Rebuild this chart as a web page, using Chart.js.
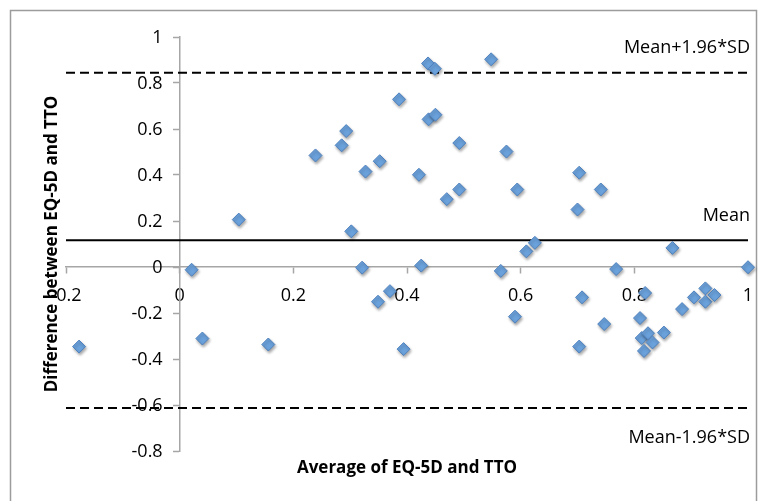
<!DOCTYPE html>
<html>
<head>
<meta charset="utf-8">
<script src="https://cdn.jsdelivr.net/npm/chart.js@4.4.0/dist/chart.umd.min.js"></script>
<style>
  html, body { margin: 0; padding: 0; background: #fff; }
  #wrap { width: 766px; height: 501px; position: relative; }
</style>
</head>
<body>
<div id="wrap"><canvas id="chart"></canvas></div>
<script>
// Bland-Altman: average vs difference of EQ-5D and TTO
const avgValues = [
  -0.177, 0.021, 0.040, 0.104, 0.156, 0.239, 0.285, 0.293, 0.302, 0.321,
  0.327, 0.349, 0.352, 0.370, 0.386, 0.394, 0.421, 0.425, 0.437, 0.438,
  0.449, 0.450, 0.470, 0.492, 0.492, 0.548, 0.565, 0.575, 0.590, 0.594,
  0.610, 0.625, 0.700, 0.703, 0.703, 0.708, 0.741, 0.747, 0.768, 0.810,
  0.813, 0.817, 0.819, 0.824, 0.832, 0.852, 0.867, 0.884, 0.905, 0.925,
  0.925, 0.941, 1.000
];
const diffValues = [
  -0.346, -0.012, -0.311, 0.206, -0.337, 0.485, 0.529, 0.591, 0.155, -0.003,
  0.415, -0.151, 0.460, -0.105, 0.729, -0.357, 0.401, 0.006, 0.885, 0.642,
  0.862, 0.662, 0.295, 0.539, 0.337, 0.903, -0.017, 0.502, -0.216, 0.337,
  0.068, 0.105, 0.250, 0.410, -0.346, -0.132, 0.337, -0.248, -0.009, -0.222,
  -0.309, -0.365, -0.113, -0.288, -0.328, -0.285, 0.083, -0.183, -0.132, -0.093,
  -0.151, -0.122, -0.001
];

const meanDiff = 0.116;
const upperLimit = 0.845;
const lowerLimit = -0.613;
const limitLabels = ['Mean+1.96*SD', 'Mean', 'Mean-1.96*SD'];

const xTicks = [-0.2, 0, 0.2, 0.4, 0.6, 0.8, 1];
const yTicks = [-0.8, -0.6, -0.4, -0.2, 0, 0.2, 0.4, 0.6, 0.8, 1];
const xTitle = 'Average of EQ-5D and TTO';
const yTitle = 'Difference between EQ-5D and TTO';

const FONT = '"Open Sans", "Liberation Sans", sans-serif';
const axisGray = '#a6a6a6';

const fmt = (v) => String(+v.toFixed(1));
const points = avgValues.map((x, i) => ({ x: x, y: diffValues[i] }));
const hline = (y) => [{ x: xTicks[0], y: y }, { x: xTicks[xTicks.length - 1], y: y }];

const decor = {
  id: 'decor',
  beforeDraw(chart) {
    const ctx = chart.ctx;
    ctx.save();
    ctx.strokeStyle = '#9c9c9c';
    ctx.lineWidth = 1.5;
    ctx.strokeRect(10.5, 10.5, 746, 600);
    ctx.restore();
  },
  beforeDatasetDraw(chart, args) {
    if (args.index !== 0) return;
    const ctx = chart.ctx;
    ctx.save();
    ctx.shadowColor = 'rgba(0,0,0,0.35)';
    ctx.shadowBlur = 3;
    ctx.shadowOffsetX = 1;
    ctx.shadowOffsetY = 2;
  },
  afterDatasetDraw(chart, args) {
    if (args.index !== 0) return;
    chart.ctx.restore();
  },
  afterDatasetsDraw(chart) {
    // y tick labels: the scale sits on x=0, so put them left of its tick marks
    const ctx = chart.ctx;
    const xs = chart.scales.x, ys = chart.scales.y;
    const x0 = xs.getPixelForValue(0) - 17;
    ctx.save();
    ctx.fillStyle = '#000';
    ctx.font = '18px ' + FONT;
    ctx.textAlign = 'right';
    ctx.textBaseline = 'middle';
    ys.ticks.forEach(t => ctx.fillText(fmt(t.value), x0, ys.getPixelForValue(t.value) + 1));
    ctx.restore();
  },
  afterDraw(chart) {
    const ctx = chart.ctx;
    const ys = chart.scales.y;
    const area = chart.chartArea;
    ctx.save();
    ctx.fillStyle = '#000';

    // limit labels at the right end
    ctx.font = '18px ' + FONT;
    ctx.textAlign = 'right';
    ctx.textBaseline = 'middle';
    const right = area.right + 2;
    ctx.fillText(limitLabels[0], right, ys.getPixelForValue(upperLimit) - 25);
    ctx.fillText(limitLabels[1], right, ys.getPixelForValue(meanDiff) - 24);
    ctx.fillText(limitLabels[2], right, ys.getPixelForValue(lowerLimit) + 30);

    // axis titles
    ctx.font = 'bold 17px ' + FONT;
    ctx.textAlign = 'center';
    ctx.fillText(xTitle, (area.left + area.right) / 2, 468);
    ctx.translate(52, (area.top + area.bottom) / 2);
    ctx.rotate(-Math.PI / 2);
    ctx.fillText(yTitle, 0, 0);
    ctx.restore();
  }
};

new Chart(document.getElementById('chart'), {
  type: 'scatter',
  data: {
    datasets: [
      {
        label: 'Difference',
        data: points,
        pointStyle: 'rectRot',
        pointRadius: 6.5,
        pointHoverRadius: 6.5,
        backgroundColor: '#6ba2dc',
        borderColor: '#4f81bd',
        borderWidth: 1,
        clip: false,
        order: 0
      },
      {
        type: 'line',
        label: limitLabels[0],
        data: hline(upperLimit),
        borderColor: '#000',
        borderWidth: 2,
        borderDash: [9, 5],
        pointRadius: 0,
        order: 1
      },
      {
        type: 'line',
        label: limitLabels[1],
        data: hline(meanDiff),
        borderColor: '#000',
        borderWidth: 2,
        pointRadius: 0,
        order: 1
      },
      {
        type: 'line',
        label: limitLabels[2],
        data: hline(lowerLimit),
        borderColor: '#000',
        borderWidth: 2,
        borderDash: [9, 5],
        pointRadius: 0,
        order: 1
      }
    ]
  },
  options: {
    responsive: true,
    maintainAspectRatio: false,
    animation: false,
    layout: { padding: { left: 66, right: 18, top: 37, bottom: 50 } },
    plugins: {
      legend: { display: false },
      tooltip: { enabled: false }
    },
    scales: {
      x: {
        type: 'linear',
        position: { y: 0 },
        min: -0.2,
        max: 1,
        afterBuildTicks: (s) => { s.ticks = xTicks.map(v => ({ value: v })); },
        grid: { drawOnChartArea: false, drawTicks: true, tickLength: 6, tickColor: axisGray, tickWidth: 1.5 },
        border: { color: axisGray, width: 1.5 },
        ticks: {
          color: '#000',
          padding: 12,
          maxRotation: 0,
          font: { family: FONT, size: 18 },
          callback: fmt
        }
      },
      y: {
        type: 'linear',
        position: { x: 0 },
        min: -0.8,
        max: 1,
        afterBuildTicks: (s) => { s.ticks = yTicks.map(v => ({ value: v })); },
        grid: { drawOnChartArea: false, drawTicks: true, tickLength: 6, tickColor: axisGray, tickWidth: 1.5 },
        border: { color: axisGray, width: 1.5 },
        ticks: { display: false }
      }
    }
  },
  plugins: [decor]
});
</script>
</body>
</html>
